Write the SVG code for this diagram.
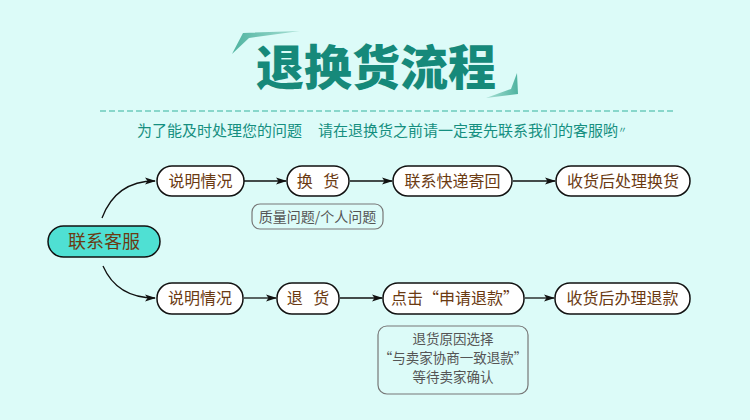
<svg xmlns="http://www.w3.org/2000/svg" width="750" height="420" viewBox="0 0 750 420">
<defs>
<marker id="ah" markerWidth="11" markerHeight="8" refX="10" refY="4" orient="auto" markerUnits="userSpaceOnUse">
<path d="M0,0.5 L11,4 L0,7.5 L2.5,4 z" fill="#111"/>
</marker>
<linearGradient id="g1" x1="0" y1="0" x2="1" y2="0">
<stop offset="0" stop-color="#4fb3a0"/><stop offset="1" stop-color="#a9e0d5"/>
</linearGradient>
<linearGradient id="g2" x1="1" y1="0" x2="0" y2="0">
<stop offset="0" stop-color="#4fb3a0"/><stop offset="1" stop-color="#a9e0d5"/>
</linearGradient>
<style>
.cjk{font-family:"Noto Sans CJK SC","Noto Sans",sans-serif}
.node rect{fill:#ffffff;stroke:#111;stroke-width:1.5}
.node text{font-size:16px;fill:#6b3a12;text-anchor:middle}
.note rect{fill:none;stroke:#777;stroke-width:1.2}
.note text{font-size:13.5px;fill:#555;text-anchor:middle}
.conn path,.conn line{fill:none;stroke:#111;stroke-width:1.3;marker-end:url(#ah)}
</style>
</defs>
<rect width="750" height="420" fill="#dcfbf8"/>
<g id="title">
<polygon points="300,31 243,33 232,54 249,38" fill="url(#g1)"/>
<polygon points="517,73 518,94 486,98 511,89" fill="url(#g2)"/>
<text x="376" y="85" class="cjk" font-size="48" font-weight="900" fill="#16897a" text-anchor="middle">退换货流程</text>
<line x1="100" y1="111" x2="676" y2="111" stroke="#6ccbbc" stroke-width="1.3" stroke-dasharray="6,3"/>
<text x="137" y="136" class="cjk" font-size="15" fill="#158f80">为了能及时处理您的问题</text>
<text x="318" y="136" class="cjk" font-size="15" fill="#158f80">请在退换货之前请一定要先联系我们的客服哟<tspan font-size="9" dy="-3">〃</tspan></text>
</g>
<g class="conn">
<path d="M102,218 Q116,181 155,181"/>
<path d="M103,266 Q117,298 155,298"/>
<line x1="244" y1="181" x2="286" y2="181"/>
<line x1="350" y1="181" x2="392" y2="181"/>
<line x1="513" y1="181" x2="555" y2="181"/>
<line x1="244" y1="298" x2="276" y2="298"/>
<line x1="340" y1="298" x2="382" y2="298"/>
<line x1="525" y1="298" x2="554" y2="298"/>
</g>
<g id="kefu" class="node cjk">
<rect x="48" y="226" width="112" height="31" rx="15.5" style="fill:#4fe0d3"/>
<text x="104" y="248" style="font-size:18px">联系客服</text>
</g>
<g id="shuoming1" class="node cjk">
<rect x="157" y="166" width="87" height="30" rx="15"/>
<text x="200.5" y="187">说明情况</text>
</g>
<g id="huanhuo" class="node cjk">
<rect x="287" y="166" width="62" height="30" rx="15"/>
<text x="318" y="187" style="word-spacing:7px">换 货</text>
</g>
<g id="kuaidi" class="node cjk">
<rect x="393" y="166" width="119" height="30" rx="15"/>
<text x="452.5" y="187">联系快递寄回</text>
</g>
<g id="shouhuo1" class="node cjk">
<rect x="556" y="166" width="134" height="30" rx="15"/>
<text x="623" y="187">收货后处理换货</text>
</g>
<g id="note1" class="note cjk">
<rect x="252" y="204" width="131" height="25" rx="8"/>
<text x="317.5" y="222" style="font-size:14px">质量问题/个人问题</text>
</g>
<g id="shuoming2" class="node cjk">
<rect x="157" y="283" width="86" height="31" rx="15"/>
<text x="200" y="304">说明情况</text>
</g>
<g id="tuihuo" class="node cjk">
<rect x="277" y="283" width="62" height="31" rx="15"/>
<text x="308" y="304" style="word-spacing:7px">退 货</text>
</g>
<g id="shenqing" class="node cjk">
<rect x="383" y="283" width="141" height="31" rx="15"/>
<text x="455" y="304">点击“申请退款”</text>
</g>
<g id="shouhuo2" class="node cjk">
<rect x="555" y="283" width="135" height="31" rx="15"/>
<text x="622.5" y="304">收货后办理退款</text>
</g>
<g id="note2" class="note cjk">
<rect x="378" y="326" width="150" height="68" rx="9"/>
<text x="453" y="344">退货原因选择</text>
<text x="453" y="363">“与卖家协商一致退款”</text>
<text x="453" y="382">等待卖家确认</text>
</g>
</svg>
